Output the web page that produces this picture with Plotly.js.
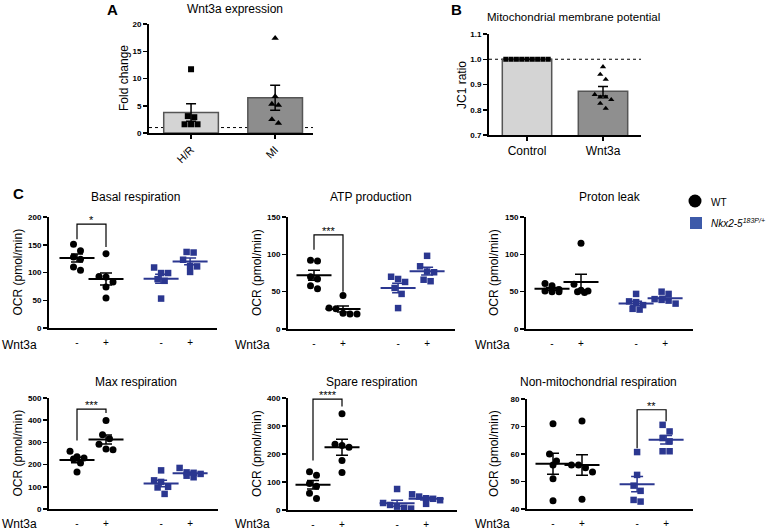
<!DOCTYPE html>
<html><head><meta charset="utf-8">
<script src="https://cdn.plot.ly/plotly-3.0.1.min.js"></script>
<style>html,body{margin:0;padding:0;background:#fff}#chart{width:766px;height:530px}</style>
</head><body><div id="chart"></div>
<script>
// ---------------- DATA ----------------
const fcCategories = ['H/R', 'MI'];
const fcHR = [11.7, 3.1, 2.9, 1.6, 1.6, 1.6];
const fcMI = [17.4, 6.7, 5.3, 5.1, 2.5, 1.8];

const jcCategories = ['Control', 'Wnt3a'];
const jcControl = [1, 1, 1, 1, 1, 1, 1, 1, 1];
const jcWnt3a = [0.97, 0.94, 0.92, 0.86, 0.85, 0.85, 0.84, 0.825, 0.805];

const wnt3aTickLabels = ['-', '+', '-', '+'];
const genotypes = ['WT', 'Nkx2-5 183P/+'];

const basalWTneg = [151, 139, 128, 124, 110, 104];
const basalWTpos = [134, 93, 92, 83, 74, 54];
const basalNkxNeg = [109, 99, 99, 88, 85, 53];
const basalNkxPos = [137, 136, 123, 112, 111, 101];

const atpWTneg = [92, 91, 70, 67, 58, 54];
const atpWTpos = [45, 28, 27, 21, 20, 20];
const atpNkxNeg = [70, 67, 63, 55, 47, 28];
const atpNkxPos = [98, 84, 77, 76, 66, 64];

const leakWTneg = [61, 58, 53, 51, 50, 50];
const leakWTpos = [115, 60, 52, 51, 50, 49];
const leakNkxNeg = [47, 37, 36, 32, 27, 26];
const leakNkxPos = [50, 47, 40, 39, 38, 34];

const maxWTneg = [260, 235, 230, 225, 207, 167];
const maxWTpos = [399, 335, 317, 292, 270, 267];
const maxNkxNeg = [174, 129, 122, 100, 97, 68];
const maxNkxPos = [185, 165, 163, 158, 150, 143];

const spareWTneg = [137, 124, 95, 85, 60, 41];
const spareWTpos = [344, 235, 230, 224, 177, 134];
const spareNkxNeg = [75, 25, 18, 12, 8, 5];
const spareNkxPos = [56, 48, 42, 40, 35, 22];

const nonmitoWTneg = [71, 60, 57.5, 56, 51, 43];
const nonmitoWTpos = [72, 56, 56, 55, 53.5, 43.5];
const nonmitoNkxNeg = [60.7, 52.4, 48.5, 46.6, 43.3, 42.7];
const nonmitoNkxPos = [70.6, 68.2, 65.8, 64.6, 61, 61];

// ---------------- HELPERS ----------------
const W = 766, H = 530;
const FONT = 'Liberation Sans, Arial, Helvetica, sans-serif';
const NAVY = '#2b3790';
const LEG_BLUE = '#3d5aa9';
const PX = x => x / W;
const PY = y => 1 - y / H;

function mean(a) { return a.reduce((s, v) => s + v, 0) / a.length; }
function sem(a) {
  const m = mean(a);
  const v = a.reduce((s, x) => s + (x - m) * (x - m), 0) / (a.length - 1);
  return Math.sqrt(v / a.length);
}
// symmetric beeswarm rows computed from the values
function swarm(vals, center, pxX, pxY, d) {
  const idx = vals.map((v, i) => i).sort((a, b) => vals[b] - vals[a]);
  const xs = new Array(vals.length);
  let row = [];
  const flush = () => {
    const k = row.length;
    row.forEach((i, j) => { xs[i] = center + (j - (k - 1) / 2) * d / pxX; });
    row = [];
  };
  idx.forEach(i => {
    if (row.length && (vals[row[0]] - vals[i]) * pxY >= d) flush();
    row.push(i);
  });
  flush();
  return xs;
}

const layout = {
  width: W, height: H, autosize: false,
  margin: {l: 0, r: 0, t: 0, b: 0, pad: 0},
  paper_bgcolor: '#fff', plot_bgcolor: 'rgba(0,0,0,0)',
  showlegend: false,
  font: {family: FONT, color: '#000'},
  annotations: [], shapes: []
};
const traces = [];

function ann(text, x, y, opts, font) {
  layout.annotations.push(Object.assign({
    text: text, x: PX(x), y: PY(y), xref: 'paper', yref: 'paper', showarrow: false,
    xanchor: 'center', yanchor: 'middle',
    font: Object.assign({family: FONT, size: 12, color: '#000'}, font || {})
  }, opts || {}));
}

let axN = 0;
function addAxes(box, xr, yr, xOpts, yOpts) {
  axN++;
  const sx = axN === 1 ? '' : String(axN);
  layout['xaxis' + sx] = Object.assign({
    domain: [PX(box[0]), PX(box[1])], range: xr, anchor: 'y' + sx,
    showline: true, linewidth: 2, linecolor: '#000', showgrid: false, zeroline: false, fixedrange: true
  }, xOpts);
  layout['yaxis' + sx] = Object.assign({
    domain: [PY(box[3]), PY(box[2])], range: yr, anchor: 'x' + sx,
    showline: true, linewidth: 2, linecolor: '#000', showgrid: false, zeroline: false, fixedrange: true,
    ticks: 'outside', ticklen: 4, tickwidth: 1.5, tickcolor: '#000',
    tickfont: {family: FONT, size: 8, weight: 'bold', color: '#000'}
  }, yOpts);
  return {x: 'x' + sx, y: 'y' + sx, box: box, xr: xr, yr: yr};
}
function pxPer(ax) {
  return {
    x: (ax.box[1] - ax.box[0]) / (ax.xr[1] - ax.xr[0]),
    y: (ax.box[3] - ax.box[2]) / (ax.yr[1] - ax.yr[0])
  };
}

// ---------------- PANEL A ----------------
const axA = addAxes([149, 313, 24, 133], [-0.5, 1.45], [0, 20],
  {tickvals: [0, 1], ticktext: fcCategories, tickangle: -45, ticks: 'outside', ticklen: 4, tickwidth: 1.5, tickcolor: '#000',
   tickfont: {family: FONT, size: 11, color: '#000'}},
  {tick0: 0, dtick: 5});
layout.shapes.push({type: 'line', layer: 'below', xref: axA.x + ' domain', x0: 0, x1: 1, yref: axA.y, y0: 1, y1: 1,
  line: {dash: 'dot', width: 1, color: '#000'}});
traces.push({type: 'bar', x: [0, 1], y: [mean(fcHR), mean(fcMI)], width: 0.65, xaxis: axA.x, yaxis: axA.y,
  marker: {color: ['#d4d4d4', '#8d8d8d'], line: {color: '#555', width: 1.5}},
  error_y: {type: 'data', array: [sem(fcHR), sem(fcMI)], width: 5, thickness: 1.5, color: '#000'}, hoverinfo: 'skip'});
{
  const p = pxPer(axA);
  traces.push({type: 'scatter', mode: 'markers', x: swarm(fcHR, 0, p.x, p.y, 6.5), y: fcHR, xaxis: axA.x, yaxis: axA.y,
    marker: {symbol: 'square', size: 6, color: '#000'}, cliponaxis: false});
  traces.push({type: 'scatter', mode: 'markers', x: swarm(fcMI, 1, p.x, p.y, 6.5), y: fcMI, xaxis: axA.x, yaxis: axA.y,
    marker: {symbol: 'triangle-up', size: 6.5, color: '#000'}, cliponaxis: false});
}
ann('<b>A</b>', 113, 10, {}, {size: 15});
ann('Wnt3a expression', 185, 9, {xanchor: 'left'}, {size: 12});
ann('Fold change', 124, 78, {textangle: -90}, {size: 12});

// ---------------- PANEL B ----------------
const axB = addAxes([489, 641, 34, 135], [-0.5, 1.5], [0.7, 1.1],
  {tickvals: [0, 1], ticktext: jcCategories, ticks: 'outside', ticklen: 4, tickwidth: 1.5, tickcolor: '#000',
   tickfont: {family: FONT, size: 12, color: '#000'}},
  {tick0: 0.7, dtick: 0.1, tickformat: '.1f'});
layout.shapes.push({type: 'line', layer: 'below', xref: axB.x + ' domain', x0: 0, x1: 1, yref: axB.y, y0: 1, y1: 1,
  line: {dash: 'dot', width: 1, color: '#000'}});
traces.push({type: 'bar', x: [0, 1], y: [mean(jcControl), mean(jcWnt3a)], width: 0.65, xaxis: axB.x, yaxis: axB.y,
  marker: {color: ['#d4d4d4', '#8f8f8f'], line: {color: '#555', width: 1.5}},
  error_y: {type: 'data', array: [sem(jcControl), sem(jcWnt3a)], width: 5, thickness: 1.5, color: '#000'}, hoverinfo: 'skip'});
{
  const p = pxPer(axB);
  traces.push({type: 'scatter', mode: 'markers', x: swarm(jcControl, 0, p.x, p.y, 5.3), y: jcControl, xaxis: axB.x, yaxis: axB.y,
    marker: {symbol: 'square', size: 5, color: '#000'}, cliponaxis: false});
  traces.push({type: 'scatter', mode: 'markers', x: swarm(jcWnt3a, 1, p.x, p.y, 5.5), y: jcWnt3a, xaxis: axB.x, yaxis: axB.y,
    marker: {symbol: 'triangle-up', size: 5.5, color: '#000'}, cliponaxis: false});
}
ann('<b>B</b>', 456, 10, {}, {size: 15});
ann('Mitochondrial membrane potential', 485, 17, {xanchor: 'left'}, {size: 11.5});
ann('JC1 ratio', 462, 85, {textangle: -90}, {size: 12});

// ---------------- PANEL C ----------------
const groupPos = [0, 1, 2.9, 3.9];
const PXU = 29;
const panelsC = [
  {title: 'Basal respiration', groups: [basalWTneg, basalWTpos, basalNkxNeg, basalNkxPos],
   box: [49, 217, 217, 328], g0: 77, yr: [0, 200], dtick: 50, tx: 135, ty: 197, ocrX: 17, wntX: 0, wntY: 345,
   br: {a: 0, b: 1, yL: 160, yR: 146, yT: 187, label: '*'}},
  {title: 'ATP production', groups: [atpWTneg, atpWTpos, atpNkxNeg, atpNkxPos],
   box: [288, 455, 217, 329], g0: 314, yr: [0, 150], dtick: 50, tx: 371, ty: 197, ocrX: 257, wntX: 233, wntY: 345,
   br: {a: 0, b: 1, yL: 106, yR: 50, yT: 126, label: '***'}},
  {title: 'Proton leak', groups: [leakWTneg, leakWTpos, leakNkxNeg, leakNkxPos],
   box: [526, 693, 217, 329], g0: 552, yr: [0, 150], dtick: 50, tx: 610, ty: 197, ocrX: 494, wntX: 473, wntY: 345,
   br: null},
  {title: 'Max respiration', groups: [maxWTneg, maxWTpos, maxNkxNeg, maxNkxPos],
   box: [49, 218, 398, 509], g0: 77, yr: [0, 500], dtick: 100, tx: 136, ty: 382, ocrX: 17, wntX: 0, wntY: 524,
   br: {a: 0, b: 1, yL: 309, yR: 432, yT: 450, label: '***'}},
  {title: 'Spare respiration', groups: [spareWTneg, spareWTpos, spareNkxNeg, spareNkxPos],
   box: [288, 457, 398, 510], g0: 313, yr: [0, 400], dtick: 100, tx: 371, ty: 382, ocrX: 257, wntX: 233, wntY: 524,
   br: {a: 0, b: 1, yL: 177, yR: 370, yT: 396, label: '****'}},
  {title: 'Non-mitochondrial respiration', groups: [nonmitoWTneg, nonmitoWTpos, nonmitoNkxNeg, nonmitoNkxPos],
   box: [527, 693, 399, 509], g0: 553, yr: [40, 80], dtick: 10, tx: 598, ty: 382, ocrX: 494, wntX: 473, wntY: 524,
   br: {a: 2, b: 3, yL: 62.1, yR: 71.9, yT: 76.1, label: '**'}}
];

panelsC.forEach(pc => {
  const xr = [(pc.box[0] - pc.g0) / PXU, (pc.box[1] - pc.g0) / PXU];
  const ax = addAxes(pc.box, xr, pc.yr,
    {tickvals: groupPos, ticktext: wnt3aTickLabels, ticks: '', ticklabelstandoff: 4,
     tickfont: {family: FONT, size: 10, color: '#000'}},
    {tick0: pc.yr[0], dtick: pc.dtick});
  const p = pxPer(ax);
  pc.groups.forEach((vals, gi) => {
    const isWT = gi < 2;
    traces.push({type: 'scatter', mode: 'markers', xaxis: ax.x, yaxis: ax.y,
      x: swarm(vals, groupPos[gi], p.x, p.y, 7), y: vals, cliponaxis: false,
      marker: isWT ? {symbol: 'circle', size: 7, color: '#000'} : {symbol: 'square', size: 6.5, color: NAVY}});
  });
  [[0, 1, '#000'], [2, 3, NAVY]].forEach(([i, j, col]) => {
    traces.push({type: 'scatter', mode: 'markers', xaxis: ax.x, yaxis: ax.y,
      x: [groupPos[i], groupPos[j]], y: [mean(pc.groups[i]), mean(pc.groups[j])], cliponaxis: false,
      marker: {symbol: 'line-ew', size: 25, color: col, line: {width: 2, color: col}},
      error_y: {type: 'data', array: [sem(pc.groups[i]), sem(pc.groups[j])], width: 6, thickness: 1.5, color: col}});
  });
  if (pc.br) {
    const xa = groupPos[pc.br.a], xb = groupPos[pc.br.b];
    layout.shapes.push({type: 'path', xref: ax.x, yref: ax.y,
      path: `M ${xa},${pc.br.yL} L ${xa},${pc.br.yT} L ${xb},${pc.br.yT} L ${xb},${pc.br.yR}`,
      line: {color: '#000', width: 1.2}});
    layout.annotations.push({text: pc.br.label, xref: ax.x, yref: ax.y, x: (xa + xb) / 2, y: pc.br.yT,
      showarrow: false, xanchor: 'center', yanchor: 'bottom', yshift: -4,
      font: {family: FONT, size: 11, color: '#000'}});
  }
  ann(pc.title, pc.tx, pc.ty, {}, {size: 12});
  ann('OCR (pmol/min)', pc.ocrX, (pc.box[2] + pc.box[3]) / 2, {textangle: -90}, {size: 12});
  ann('Wnt3a', pc.wntX, pc.wntY, {xanchor: 'left'}, {size: 12});
});
ann('<b>C</b>', 18, 193, {}, {size: 15});

// legend
layout.shapes.push({type: 'circle', xref: 'paper', yref: 'paper', x0: PX(688.5), x1: PX(701.5), y0: PY(207.5), y1: PY(194.5),
  fillcolor: '#000', line: {width: 0}});
layout.shapes.push({type: 'rect', xref: 'paper', yref: 'paper', x0: PX(690), x1: PX(702), y0: PY(229), y1: PY(217),
  fillcolor: LEG_BLUE, line: {width: 0}});
ann(genotypes[0], 709, 202, {xanchor: 'left'}, {size: 10});
ann('<i>Nkx2-5<sup>183P/+</sup></i>', 709, 223, {xanchor: 'left'}, {size: 10});

Plotly.newPlot('chart', traces, layout, {staticPlot: true, displayModeBar: false});
</script></body></html>
